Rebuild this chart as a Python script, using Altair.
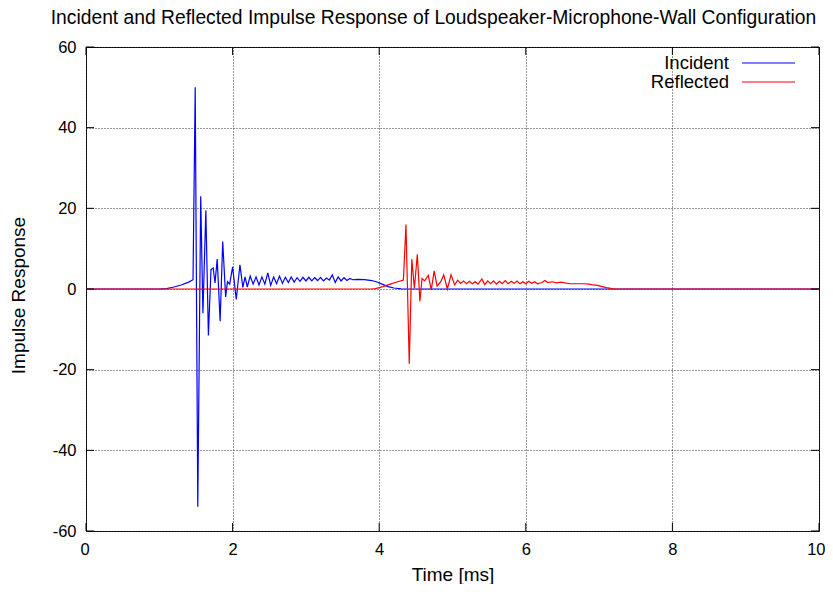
import altair as alt
import pandas as pd

# ---- data ----
inc_t = [0.0, 1.0, 1.1, 1.2, 1.3, 1.4, 1.46, 1.49, 1.525, 1.565, 1.595, 1.635, 1.67,
         1.705, 1.735, 1.76, 1.79, 1.83, 1.865, 1.905, 1.93, 1.96, 2.0, 2.05, 2.1,
         2.14, 2.17, 2.2, 2.24, 2.28, 2.32, 2.36, 2.4, 2.44, 2.48, 2.52, 2.56, 2.6,
         2.64, 2.68, 2.72, 2.76, 2.8, 2.84, 2.88, 2.92, 2.96, 3.0, 3.04, 3.08, 3.12,
         3.16, 3.2, 3.24, 3.28, 3.32, 3.36, 3.4, 3.44, 3.48, 3.52, 3.56, 3.6, 3.64,
         3.7, 3.8, 3.9, 3.96, 4.04, 4.12, 4.2, 4.3, 4.4, 10.0]
inc_v = [0.0, 0.0, 0.1, 0.5, 1.0, 1.7, 2.3, 50.0, -54.0, 23.0, -6.0, 19.5, -11.5,
         4.8, 5.2, 1.5, 7.4, -8.0, 11.8, -2.0, 1.8, 1.2, 5.5, -2.6, 6.0,
         0.4, 3.0, 0.5, 3.2, 1.2, 3.0, 1.0, 3.0, 1.2, 4.0, 0.9, 3.0, 1.3,
         3.2, 1.4, 2.9, 1.6, 3.0, 1.7, 2.8, 1.9, 2.9, 2.0, 2.9, 2.0, 2.8,
         2.1, 2.9, 2.0, 2.7, 2.2, 3.5, 1.6, 3.0, 2.0, 2.8, 2.1, 2.6, 2.3,
         2.4, 2.3, 2.1, 1.8, 1.2, 0.6, 0.25, 0.05, 0.0, 0.0]

ref_t = [0.0, 3.9, 3.95, 4.05, 4.15, 4.25, 4.33, 4.365, 4.41, 4.445, 4.48, 4.52,
         4.555, 4.585, 4.62, 4.67, 4.71, 4.75, 4.79, 4.84, 4.88, 4.93, 4.98, 5.03,
         5.07, 5.11, 5.15, 5.19, 5.23, 5.27, 5.31, 5.35, 5.4, 5.44, 5.48, 5.52,
         5.56, 5.6, 5.64, 5.68, 5.72, 5.76, 5.8, 5.84, 5.88, 5.92, 5.96, 6.0,
         6.04, 6.08, 6.12, 6.16, 6.22, 6.26, 6.3, 6.36, 6.42, 6.48, 6.53, 6.6,
         6.7, 6.8, 6.86, 6.92, 6.98, 7.04, 7.1, 7.16, 7.22, 10.0]
ref_v = [0.0, 0.0, 0.1, 0.6, 1.2, 1.8, 2.2, 16.0, -18.5, 7.4, 0.2, 8.6,
         -3.0, 2.6, 2.0, 3.4, -0.2, 4.5, 0.7, 1.8, 3.5, 0.0, 3.5, 1.0,
         2.2, 1.4, 2.0, 1.3, 1.9, 1.3, 1.8, 1.2, 2.5, 1.1, 2.0, 1.3,
         2.0, 1.2, 1.9, 1.3, 2.1, 1.3, 1.9, 1.4, 2.0, 1.3, 1.8, 1.3,
         1.9, 1.4, 1.8, 1.3, 1.6, 2.1, 1.6, 1.8, 1.5, 1.7, 1.5, 1.3,
         1.3, 1.3, 1.2, 1.0, 0.9, 0.6, 0.35, 0.15, 0.0, 0.0]

series = ["Incident", "Reflected"]
colors = ["#0000ff", "#ff0000"]
x_ticks = [0, 2, 4, 6, 8, 10]
y_ticks = [-60, -40, -20, 0, 20, 40, 60]

W, H = 733, 484
FONT = "Liberation Sans"
TL = 8  # inward tick length (px)

df = pd.concat([
    pd.DataFrame({"t": inc_t, "v": inc_v, "s": series[0], "o": range(len(inc_t))}),
    pd.DataFrame({"t": ref_t, "v": ref_v, "s": series[1], "o": range(len(ref_t))}),
])

xs = alt.Scale(domain=[0, 10], nice=False)
ys = alt.Scale(domain=[-60, 60], nice=False)
cs = alt.Scale(domain=series, range=colors)

lines = alt.Chart(df).mark_line(strokeWidth=1.2, clip=True).encode(
    x=alt.X("t:Q", scale=xs,
            axis=alt.Axis(values=x_ticks, title="Time [ms]", grid=True,
                          labelFlush=True, labelFlushOffset=6,
                          labelExpr="datum.value + ''")),
    y=alt.Y("v:Q", scale=ys,
            axis=alt.Axis(values=y_ticks, title="Impulse Response", grid=True,
                          labelExpr="datum.value + ''", titleY=H / 2 + 6)),
    color=alt.Color("s:N", scale=cs, legend=None),
    order="o:Q",
    detail="s:N",
)

# inward ticks on all four sides (gnuplot style)
xt = pd.DataFrame({"t": x_ticks})
yt = pd.DataFrame({"v": y_ticks})
xtick_b = alt.Chart(xt).mark_rule(color="black").encode(
    x=alt.X("t:Q", scale=xs), y=alt.value(H - TL), y2=alt.value(H))
xtick_t = alt.Chart(xt).mark_rule(color="black").encode(
    x=alt.X("t:Q", scale=xs), y=alt.value(0), y2=alt.value(TL))
ytick_l = alt.Chart(yt).mark_rule(color="black").encode(
    y=alt.Y("v:Q", scale=ys), x=alt.value(0), x2=alt.value(TL))
ytick_r = alt.Chart(yt).mark_rule(color="black").encode(
    y=alt.Y("v:Q", scale=ys), x=alt.value(W - TL), x2=alt.value(W))

# manual gnuplot-style key: label right-aligned, sample line to the right
leg = pd.DataFrame({"s": series, "row": [0, 1]})
ls = alt.Scale(domain=[0, 1], range=[16, 35])
leg_text = alt.Chart(leg).mark_text(align="right", baseline="middle", font=FONT,
                                     fontSize=18.5, color="black").encode(
    x=alt.value(643),
    y=alt.Y("row:Q", scale=ls, axis=None),
    text="s:N",
)
leg_line = alt.Chart(leg).mark_rule(strokeWidth=1.2).encode(
    x=alt.value(656), x2=alt.value(709),
    y=alt.Y("row:Q", scale=ls, axis=None),
    color=alt.Color("s:N", scale=cs, legend=None),
)

main = alt.layer(lines, xtick_b, xtick_t, ytick_l, ytick_r)
chart = alt.layer(main, leg_text, leg_line).resolve_scale(y="independent").properties(
    width=W, height=H,
    title=alt.TitleParams(
        "Incident and Reflected Impulse Response of Loudspeaker-Microphone-Wall Configuration",
        font=FONT, fontSize=19.3, fontWeight="normal", color="black", dx=-19, offset=11),
    padding={"left": 78, "top": 39, "right": 6, "bottom": 53},
    autosize=alt.AutoSizeParams(type="none"),
).configure_view(stroke="black", strokeWidth=1).configure_axis(
    domain=False, ticks=False, labelFont=FONT, labelFontSize=16.5, labelColor="black",
    titleFont=FONT, titleFontSize=19, titleFontWeight="normal", titleColor="black",
    gridColor="#333333", gridDash=[1, 2], gridWidth=1, gridOpacity=1, labelPadding=10,
).configure_axisX(titlePadding=8).configure_axisY(titlePadding=24)

chart.save("out.html", embed_options={"renderer": "svg", "actions": False})
